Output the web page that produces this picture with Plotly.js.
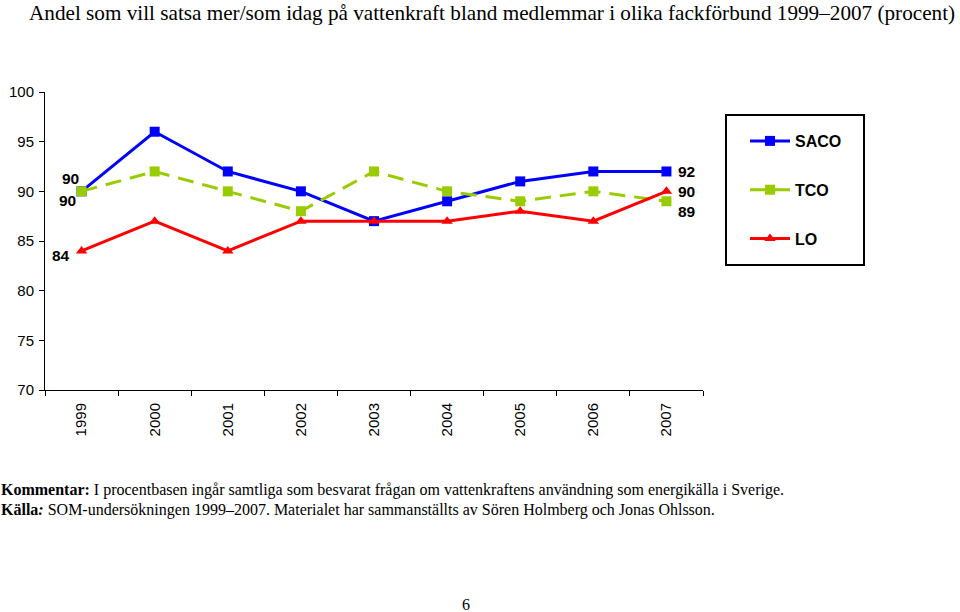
<!DOCTYPE html>
<html><head><meta charset="utf-8">
<script src="https://cdn.plot.ly/plotly-3.0.1.min.js"></script>
<style>body{margin:0;background:#fff}#c{width:960px;height:612px}</style>
</head><body><div id="c"></div>
<script>
var years = [1999, 2000, 2001, 2002, 2003, 2004, 2005, 2006, 2007];
var yearLabels = ['1999','2000','2001','2002','2003','2004','2005','2006','2007'];
var saco = [90, 96, 92, 90, 87, 89, 91, 92, 92];
var tco  = [90, 92, 90, 88, 92, 90, 89, 90, 89];
var lo   = [84, 87, 84, 87, 87, 87, 88, 87, 90];
var yTicks = [70, 75, 80, 85, 90, 95, 100];

var W = 960, H = 612;
var L = 45, R = 703, T = 92, B = 390;
function cx(x){ return x / W; }
function cy(y){ return 1 - y / H; }

var bounds = years.map(function(v){ return v - 0.5; }).concat([years[years.length-1] + 0.5]);

function tr(name, y, color, sym, dash, grp){
  return {x: years, y: y, name: name, type:'scatter', mode:'lines+markers',
    legendgroup: grp,
    line:{color:color, width:3, dash:dash},
    marker:{color:color, symbol:sym, size:10}};
}
var data = [
  tr('SACO', saco, '#0000ff', 'square', 'solid', 'a'),
  tr('TCO', tco, '#99cc00', 'square', '16px,9px', 'b'),
  tr('LO', lo, '#ff0000', 'triangle-up', 'solid', 'c')
];

var lblFont = {family:'Liberation Sans, Arial', size:15.5, color:'#000'};
function lbl(xi, yv, text, xs, ys, anchor){
  return {x: years[xi], y: yv, xref:'x', yref:'y', text: '<b>'+text+'</b>', showarrow:false,
    xanchor: anchor, yanchor:'middle', xshift: xs, yshift: ys, font: lblFont};
}
var serif = 'Liberation Serif, Times New Roman, serif';
var ann = [
  lbl(0, tco[0], tco[0], -1, 13, 'right'),
  lbl(0, saco[0], saco[0], -4, -9, 'right'),
  lbl(0, lo[0], lo[0], -10, -5, 'right'),
  lbl(8, saco[8], saco[8], 10, 0, 'left'),
  lbl(8, lo[8], lo[8], 10, 0, 'left'),
  lbl(8, tco[8], tco[8], 10, -10, 'left'),
  {xref:'paper', yref:'paper', x: (-1-L)/(R-L), y: (B-490)/(B-T), xanchor:'left', yanchor:'middle', showarrow:false,
   text:'<b>Kommentar:</b> I procentbasen ingår samtliga som besvarat frågan om vattenkraftens användning som energikälla i Sverige.',
   font:{family:serif, size:16, color:'#000'}},
  {xref:'paper', yref:'paper', x: (-1-L)/(R-L), y: (B-510)/(B-T), xanchor:'left', yanchor:'middle', showarrow:false,
   text:'<b>Källa</b><b><i>:</i></b> SOM-undersökningen 1999–2007. Materialet har sammanställts av Sören Holmberg och Jonas Ohlsson.',
   font:{family:serif, size:16, color:'#000'}},
  {xref:'paper', yref:'paper', x: (466-L)/(R-L), y: (B-604)/(B-T), xanchor:'center', yanchor:'middle', showarrow:false,
   text:'6', font:{family:serif, size:16, color:'#000'}}
];

var layout = {
  width:W, height:H,
  margin:{l:L, r:W-R, t:T, b:H-B, pad:0, autoexpand:false},
  paper_bgcolor:'#fff', plot_bgcolor:'#fff',
  title:{text:'Andel som vill satsa mer/som idag på vattenkraft bland medlemmar i olika fackförbund 1999–2007 (procent)',
    font:{family:serif, size:21.2, color:'#000'}, xref:'container', yref:'container', x: cx(29), xanchor:'left', y: cy(13), yanchor:'middle', automargin:false},
  xaxis:{type:'linear', range:[years[0]-0.5, years[years.length-1]+0.5], tickmode:'array', tickvals: years, ticktext: yearLabels,
    showline:true, linecolor:'#000', linewidth:1, ticks:'outside', ticklen:6, tickcolor:'rgba(0,0,0,0)',
    minor:{tickmode:'array', tickvals: bounds, ticks:'outside', ticklen:5, tickcolor:'#000', showgrid:false},
    tickangle:-90, showgrid:false, zeroline:false, automargin:false,
    tickfont:{family:'Liberation Sans, Arial', size:15, color:'#000'}},
  yaxis:{range:[70,100], tickvals:yTicks, showline:true, linecolor:'#000', linewidth:1, ticks:'outside', ticklen:5,
    tickcolor:'#000', showgrid:false, zeroline:false, automargin:false, ticklabelstandoff:2,
    tickfont:{family:'Liberation Sans, Arial', size:15, color:'#000'}},
  showlegend:true,
  legend:{xref:'container', yref:'container', x: cx(745), y: cy(124), xanchor:'left', yanchor:'top', borderwidth:0,
    bgcolor:'rgba(0,0,0,0)', traceorder:'grouped', tracegroupgap:25, itemwidth:40,
    font:{family:'Liberation Sans, Arial', size:16, color:'#000', weight:'bold'}},
  shapes:[{type:'rect', xref:'paper', yref:'paper', x0:(726-L)/(R-L), x1:(864-L)/(R-L), y0:(B-115)/(B-T), y1:(B-265)/(B-T),
    line:{color:'#000', width:2}, fillcolor:'rgba(0,0,0,0)'}],
  annotations: ann
};
Plotly.newPlot('c', data, layout, {staticPlot:true});
</script></body></html>
